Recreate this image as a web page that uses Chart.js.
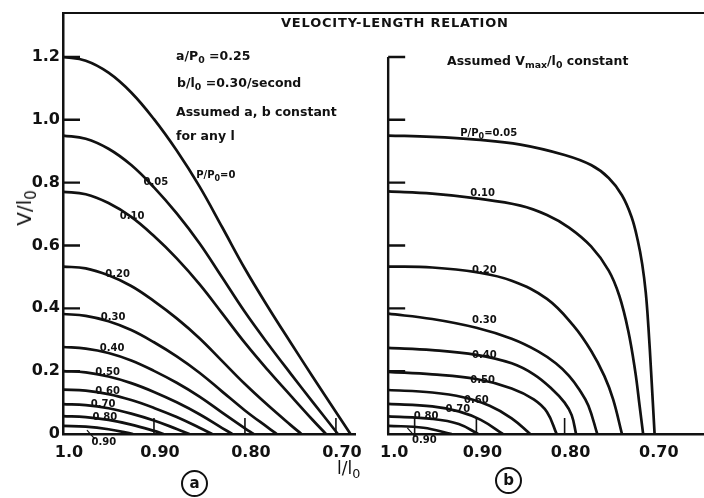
<!DOCTYPE html>
<html>
<head>
<meta charset="utf-8">
<script src="https://cdn.jsdelivr.net/npm/chart.js@4.4.0/dist/chart.umd.min.js"></script>
<style>
  body { margin:0; background:#fff; width:704px; height:498px; position:relative; overflow:hidden; font-family:"DejaVu Sans", sans-serif; color:#111 }
  .wrap { position:absolute; top:0 }
  .note { position:absolute; font-weight:bold; font-size:12.5px; white-space:nowrap; line-height:14px }
  sub { font-size:75%; vertical-align:-0.35em; line-height:0 }
  #frameTop { position:absolute; left:62px; top:12px; width:642px; height:2px; background:#111 }
  #title { position:absolute; left:281px; top:15px; font-size:13px; font-weight:bold; letter-spacing:0.8px; white-space:nowrap }
  #ytitle { position:absolute; left:24px; top:208px; font-size:20px; transform:translate(-50%,-50%) rotate(-90deg); white-space:nowrap }
  #xtitle { position:absolute; left:337px; top:458px; font-size:17px; white-space:nowrap }
  .circ { position:absolute; width:23px; height:23px; border:2px solid #111; border-radius:50%; text-align:center; line-height:22px; font-size:15px; font-weight:bold }
</style>
</head>
<body>
<div class="wrap" style="left:0;width:365px;height:498px"><canvas id="chartA" width="365" height="498"></canvas></div>
<div class="wrap" style="left:365px;width:339px;height:498px"><canvas id="chartB" width="339" height="498"></canvas></div>

<div id="frameTop"></div>
<div id="title">VELOCITY-LENGTH RELATION</div>
<div class="note" style="left:176px;top:49px">a/P<sub>0</sub> =0.25</div>
<div class="note" style="left:177px;top:76px">b/l<sub>0</sub> =0.30/second</div>
<div class="note" style="left:176px;top:105px">Assumed a, b constant</div>
<div class="note" style="left:176px;top:129px">for any l</div>
<div class="note" style="left:447px;top:54px">Assumed V<sub>max</sub>/l<sub>0</sub> constant</div>
<div id="ytitle">V/l<sub>0</sub></div>
<div id="xtitle">l/l<sub>0</sub></div>
<div class="circ" style="left:181px;top:470px">a</div>
<div class="circ" style="left:495px;top:467px">b</div>

<script>
// axis ticks
const yTicks = [0, 0.2, 0.4, 0.6, 0.8, 1.0, 1.2]
const yTickLabels = ['0', '0.2', '0.4', '0.6', '0.8', '1.0', '1.2']
const xTicks = [1.0, 0.9, 0.8, 0.7]
const xTickLabels = ['1.0', '0.90', '0.80', '0.70']
const marksA = [0.9, 0.8, 0.7]
const marksB = [0.97, 0.9, 0.8]

// panel (a): a, b constant  -- [l/l0, V/l0]
const a000 = [[1.0,1.2],[0.975,1.188],[0.95,1.15],[0.925,1.087],[0.9,1.002],[0.875,0.902],[0.85,0.788],[0.825,0.658],[0.8,0.526],[0.775,0.406],[0.75,0.292],[0.725,0.18],[0.70,0.07],[0.684,0]]
const a005 = [[1.0,0.95],[0.975,0.94],[0.95,0.908],[0.925,0.856],[0.9,0.785],[0.875,0.702],[0.85,0.607],[0.825,0.498],[0.8,0.388],[0.775,0.288],[0.75,0.193],[0.725,0.10],[0.70,0.008],[0.698,0]]
const a010 = [[1.0,0.771],[0.975,0.763],[0.95,0.735],[0.925,0.691],[0.9,0.63],[0.875,0.559],[0.85,0.477],[0.825,0.384],[0.8,0.29],[0.775,0.204],[0.75,0.123],[0.725,0.043],[0.711,0]]
const a020 = [[1.0,0.533],[0.975,0.527],[0.95,0.505],[0.925,0.471],[0.9,0.423],[0.875,0.368],[0.85,0.305],[0.825,0.232],[0.8,0.159],[0.775,0.092],[0.75,0.029],[0.738,0]]
const a030 = [[1.0,0.382],[0.975,0.376],[0.95,0.359],[0.925,0.331],[0.9,0.292],[0.875,0.247],[0.85,0.195],[0.825,0.135],[0.8,0.075],[0.775,0.021],[0.765,0]]
const a040 = [[1.0,0.277],[0.975,0.272],[0.95,0.258],[0.925,0.234],[0.9,0.201],[0.875,0.163],[0.85,0.119],[0.825,0.068],[0.8,0.018],[0.7905,0]]
const a050 = [[1.0,0.2],[0.975,0.196],[0.95,0.183],[0.925,0.162],[0.9,0.134],[0.875,0.101],[0.85,0.063],[0.825,0.019],[0.814,0]]
const a060 = [[1.0,0.141],[0.975,0.138],[0.95,0.127],[0.925,0.108],[0.9,0.083],[0.875,0.054],[0.85,0.02],[0.836,0]]
const a070 = [[1.0,0.095],[0.975,0.092],[0.95,0.082],[0.925,0.065],[0.9,0.043],[0.875,0.016],[0.861,0]]
const a080 = [[1.0,0.057],[0.975,0.054],[0.95,0.045],[0.925,0.030],[0.9,0.01],[0.8895,0]]
const a090 = [[1.0,0.026],[0.975,0.0235],[0.95,0.015],[0.923,0]]

// panel (b): Vmax/l0 constant
const b005 = [[1.0,0.95],[0.95,0.946],[0.9,0.937],[0.85,0.921],[0.8,0.888],[0.77,0.856],[0.75,0.815],[0.735,0.76],[0.724,0.69],[0.717,0.615],[0.712,0.54],[0.708,0.45],[0.705,0.34],[0.702,0.2],[0.698,0]]
const b010 = [[1.0,0.772],[0.95,0.765],[0.9,0.75],[0.85,0.727],[0.82,0.697],[0.795,0.657],[0.77,0.597],[0.75,0.52],[0.738,0.44],[0.728,0.33],[0.72,0.2],[0.715,0.09],[0.711,0]]
const b020 = [[1.0,0.533],[0.95,0.53],[0.9,0.515],[0.86,0.488],[0.82,0.43],[0.79,0.345],[0.77,0.265],[0.755,0.185],[0.745,0.11],[0.735,0]]
const b030 = [[1.0,0.383],[0.95,0.366],[0.9,0.338],[0.86,0.303],[0.83,0.263],[0.81,0.225],[0.795,0.185],[0.783,0.14],[0.773,0.09],[0.763,0]]
const b040 = [[1.0,0.274],[0.95,0.267],[0.9,0.252],[0.86,0.225],[0.835,0.19],[0.815,0.145],[0.8,0.1],[0.792,0.06],[0.787,0]]
const b050 = [[1.0,0.198],[0.95,0.19],[0.9,0.175],[0.86,0.145],[0.835,0.11],[0.82,0.07],[0.809,0]]
const b060 = [[1.0,0.14],[0.95,0.132],[0.915,0.117],[0.885,0.09],[0.86,0.05],[0.839,0]]
const b070 = [[1.0,0.096],[0.95,0.088],[0.92,0.072],[0.895,0.045],[0.87,0]]
const b080 = [[1.0,0.056],[0.95,0.048],[0.92,0.032],[0.898,0]]
const b090 = [[1.0,0.026],[0.96,0.02],[0.928,0]]

// curve labels, placed in data coords
const labelsA = [
  { parts: [['P/P'], ['0', true], ['=0']], x: 0.832, y: 0.823 },
  { parts: [['0.05']], x: 0.898, y: 0.80 },
  { parts: [['0.10']], x: 0.924, y: 0.692 },
  { parts: [['0.20']], x: 0.94, y: 0.507 },
  { parts: [['0.30']], x: 0.945, y: 0.37 },
  { parts: [['0.40']], x: 0.946, y: 0.272 },
  { parts: [['0.50']], x: 0.951, y: 0.195 },
  { parts: [['0.60']], x: 0.951, y: 0.137 },
  { parts: [['0.70']], x: 0.956, y: 0.093 },
  { parts: [['0.80']], x: 0.954, y: 0.054 },
  { parts: [['0.90']], x: 0.955, y: -0.026, leader: true }
]
const labelsB = [
  { parts: [['P/P'], ['0', true], ['=0.05']], x: 0.886, y: 0.957 },
  { parts: [['0.10']], x: 0.893, y: 0.766 },
  { parts: [['0.20']], x: 0.891, y: 0.52 },
  { parts: [['0.30']], x: 0.891, y: 0.36 },
  { parts: [['0.40']], x: 0.891, y: 0.249 },
  { parts: [['0.50']], x: 0.893, y: 0.169 },
  { parts: [['0.60']], x: 0.90, y: 0.108 },
  { parts: [['0.70']], x: 0.921, y: 0.077 },
  { parts: [['0.80']], x: 0.957, y: 0.057 },
  { parts: [['0.90']], x: 0.959, y: -0.019, leader: true }
]

const INK = '#111'
const toPts = arr => arr.map(p => ({ x: p[0], y: p[1] }))
const mkSet = arr => ({
  data: toPts(arr),
  showLine: true,
  borderColor: INK,
  borderWidth: 2.7,
  pointRadius: 0,
  fill: false,
  tension: 0.4
})

function drawParts(ctx, parts, cx, cy, size) {
  const big = 'bold ' + size + 'px "DejaVu Sans"'
  const small = 'bold ' + Math.round(size * 0.75) + 'px "DejaVu Sans"'
  let w = 0
  parts.forEach(([t, sub]) => { ctx.font = sub ? small : big; w += ctx.measureText(t).width })
  let x = cx - w / 2
  ctx.textAlign = 'left'
  ctx.textBaseline = 'middle'
  parts.forEach(([t, sub]) => {
    ctx.font = sub ? small : big
    ctx.fillText(t, x, sub ? cy + size * 0.35 : cy)
    x += ctx.measureText(t).width
  })
}

function decor(marks, labels, ownYAxis) {
  return {
    id: 'decor',
    afterDraw(chart) {
      const ctx = chart.ctx
      const xs = chart.scales.x, ys = chart.scales.y
      const area = chart.chartArea
      ctx.save()
      ctx.strokeStyle = INK
      ctx.fillStyle = INK
      ctx.lineWidth = 2.4
      ctx.beginPath()
      // short inward ticks on the V axis
      yTicks.forEach(v => {
        if (v === 0) return
        const y = ys.getPixelForValue(v)
        ctx.moveTo(area.left, y)
        ctx.lineTo(area.left + 17, y)
      })
      if (ownYAxis) {
        ctx.moveTo(area.left, ys.getPixelForValue(0))
        ctx.lineTo(area.left, ys.getPixelForValue(yTicks[yTicks.length - 1]))
      }
      ctx.stroke()
      ctx.lineWidth = 1.6
      ctx.beginPath()
      marks.forEach(v => {
        const x = xs.getPixelForValue(v)
        ctx.moveTo(x, area.bottom)
        ctx.lineTo(x, area.bottom - 16)
      })
      ctx.stroke()
      labels.forEach(l => {
        const px = xs.getPixelForValue(l.x), py = ys.getPixelForValue(l.y)
        drawParts(ctx, l.parts, px, py, 10)
        if (l.leader) {
          ctx.lineWidth = 1.2
          ctx.beginPath()
          ctx.moveTo(px - 17, py - 12)
          ctx.lineTo(px - 9, py - 3)
          ctx.stroke()
        }
      })
      ctx.restore()
    }
  }
}

function makeOptions(xMin, padRight, yWidth, showYLabels, showYBorder) {
  return {
    responsive: false,
    animation: false,
    layout: { padding: { top: 13, right: padRight, left: 0, bottom: 0 } },
    plugins: { legend: { display: false }, tooltip: { enabled: false } },
    scales: {
      x: {
        type: 'linear', reverse: true, min: xMin, max: 1.0,
        grid: { display: true, drawOnChartArea: false, drawTicks: false },
        border: { display: true, color: INK, width: 2.5 },
        ticks: {
          color: INK, padding: 9, labelOffset: 6, maxRotation: 0, autoSkip: false,
          font: { family: 'DejaVu Sans', size: 16, weight: 'bold' },
          callback: (v, i) => xTickLabels[i]
        },
        afterBuildTicks: s => { s.ticks = xTicks.map(v => ({ value: v })) },
        afterFit: s => { s.height = 64 }
      },
      y: {
        type: 'linear', min: 0, max: 1.34,
        grid: { display: true, drawOnChartArea: false, drawTicks: false },
        border: { display: showYBorder, color: INK, width: 2.5 },
        ticks: {
          display: showYLabels, color: INK, padding: 3,
          font: { family: 'DejaVu Sans', size: 16, weight: 'bold' },
          callback: (v, i) => yTickLabels[i]
        },
        afterBuildTicks: s => { s.ticks = yTicks.map(v => ({ value: v })) },
        afterFit: s => { s.width = yWidth }
      }
    }
  }
}

new Chart(document.getElementById('chartA'), {
  type: 'scatter',
  data: { datasets: [a000, a005, a010, a020, a030, a040, a050, a060, a070, a080, a090].map(mkSet) },
  options: makeOptions(0.678, 5, 63, true, true),
  plugins: [decor(marksA, labelsA, false)]
})

new Chart(document.getElementById('chartB'), {
  type: 'scatter',
  data: { datasets: [b005, b010, b020, b030, b040, b050, b060, b070, b080, b090].map(mkSet) },
  options: makeOptions(0.642, 0, 8, false, false),
  plugins: [decor(marksB, labelsB, true)]
})
</script>
</body>
</html>
